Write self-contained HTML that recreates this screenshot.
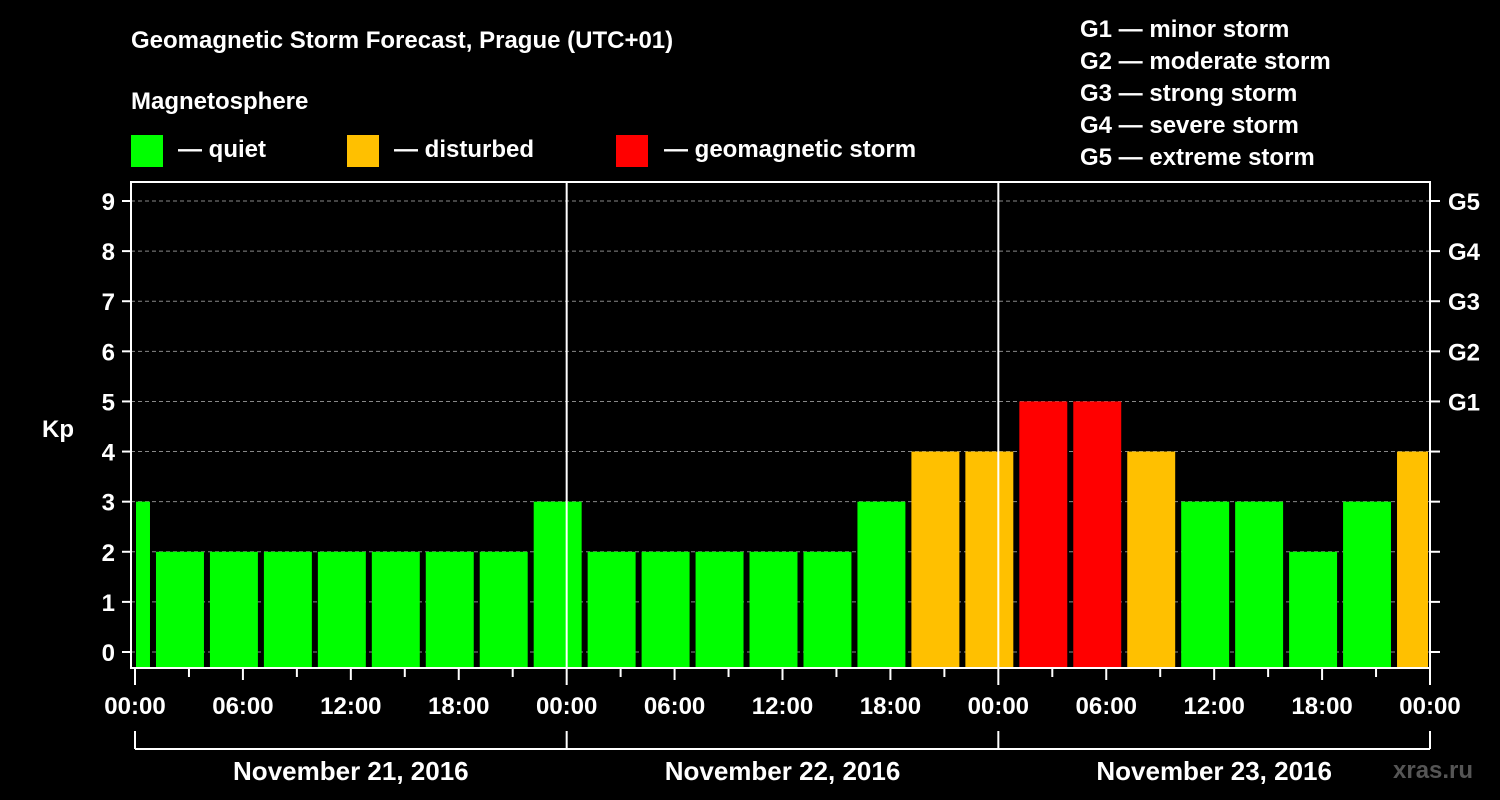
<!DOCTYPE html>
<html><head><meta charset="utf-8"><style>
html,body{margin:0;padding:0;background:#000;}
svg{display:block;font-family:"Liberation Sans",Arial,sans-serif;font-weight:bold;}
</style></head><body>
<svg id="chart" width="1500" height="800" viewBox="0 0 1500 800">
<rect width="1500" height="800" fill="#000"/>
<text x="131" y="48" fill="#fff" font-size="24">Geomagnetic Storm Forecast, Prague (UTC+01)</text>
<text x="131" y="109" fill="#fff" font-size="24">Magnetosphere</text>
<g><rect x="131" y="135" width="32" height="32" fill="#00ff00"/><text x="178" y="157" fill="#fff" font-size="24">— quiet</text></g>
<g><rect x="347" y="135" width="32" height="32" fill="#ffc000"/><text x="394" y="157" fill="#fff" font-size="24">— disturbed</text></g>
<g><rect x="616" y="135" width="32" height="32" fill="#ff0000"/><text x="664" y="157" fill="#fff" font-size="24">— geomagnetic storm</text></g>
<g fill="#fff" font-size="24">
<text x="1080" y="37">G1 — minor storm</text>
<text x="1080" y="69">G2 — moderate storm</text>
<text x="1080" y="101">G3 — strong storm</text>
<text x="1080" y="133">G4 — severe storm</text>
<text x="1080" y="165">G5 — extreme storm</text>
</g>
<g id="plot"></g>
<text x="1393" y="778" fill="#555" font-size="24">xras.ru</text>
</svg>
<script>
const kpValues = [3,2,2,2,2,2,2,2,3, 2,2,2,2,2,3,4,4, 5,5,4,3,3,2,3,4];
const barStartHours = [-2,1,4,7,10,13,16,19,22,25,28,31,34,37,40,43,46,49,52,55,58,61,64,67,70];
const yTicks = [0,1,2,3,4,5,6,7,8,9];
const gLabels = ["","","","","","G1","G2","G3","G4","G5"];
const xTickLabels = ["00:00","06:00","12:00","18:00","00:00","06:00","12:00","18:00","00:00","06:00","12:00","18:00","00:00"];
const dayLabels = ["November 21, 2016","November 22, 2016","November 23, 2016"];

const NS="http://www.w3.org/2000/svg";
const plot=document.getElementById('plot');
const L=131,R=1430,T=182,B=668,X0=135,HPX=(1430-135)/72;
const x=h=>X0+h*HPX;
const y=v=>652-v*(652-201)/9;
function mk(tag,attrs,parent){const e=document.createElementNS(NS,tag);for(const k in attrs)e.setAttribute(k,attrs[k]);(parent||plot).appendChild(e);return e;}

yTicks.forEach((v,i)=>{
  const g=mk('line',{x1:L,x2:R,y1:y(v),y2:y(v),stroke:'#888','stroke-dasharray':'4,3','stroke-width':1});
  
  
  mk('line',{x1:122,x2:L,y1:y(v),y2:y(v),stroke:'#fff','stroke-width':2});
  mk('line',{x1:R,x2:1440,y1:y(v),y2:y(v),stroke:'#fff','stroke-width':2});
  const t=mk('text',{x:115,y:y(v)+9,fill:'#fff','font-size':24,'text-anchor':'end'});t.textContent=v;
  
  
  if(gLabels[i]){const gt=mk('text',{x:1448,y:y(v)+9,fill:'#fff','font-size':24});gt.textContent=gLabels[i];
    
    }
});
const yl=mk('text',{x:42,y:437,fill:'#fff','font-size':24});yl.textContent='Kp';



kpValues.forEach((v,i)=>{
  const h=barStartHours[i];
  let x1=Math.max(x(h)+3,L+5), x2=Math.min(x(h+3)-3,R-2);
  const c=v>=5?'#ff0000':(v>=4?'#ffc000':'#00ff00');
  const b=mk('rect',{x:x1,y:y(v),width:x2-x1,height:B-1-y(v),fill:c});
  
  
});

[24,48].forEach(h=>mk('line',{x1:x(h),x2:x(h),y1:T,y2:B,stroke:'#fff','stroke-width':2}));
mk('rect',{x:L,y:T,width:R-L,height:B-T,fill:'none',stroke:'#fff','stroke-width':2});

for(let h=0;h<=72;h+=3){
  const len=h%24===0?17:(h%6===0?12:9);
  mk('line',{x1:x(h),x2:x(h),y1:B,y2:B+len,stroke:'#fff','stroke-width':2});
}
xTickLabels.forEach((s,i)=>{const t=mk('text',{x:x(i*6),y:714,fill:'#fff','font-size':24,'text-anchor':'middle'});t.textContent=s;
  
  });

mk('line',{x1:x(0),x2:x(72),y1:749,y2:749,stroke:'#fff','stroke-width':2});
[0,24,48,72].forEach(h=>mk('line',{x1:x(h),x2:x(h),y1:731,y2:749,stroke:'#fff','stroke-width':2}));
dayLabels.forEach((s,i)=>{const t=mk('text',{x:x(i*24+12),y:780,fill:'#fff','font-size':26,'text-anchor':'middle'});t.textContent=s;
  
  });
</script>
</body></html>
